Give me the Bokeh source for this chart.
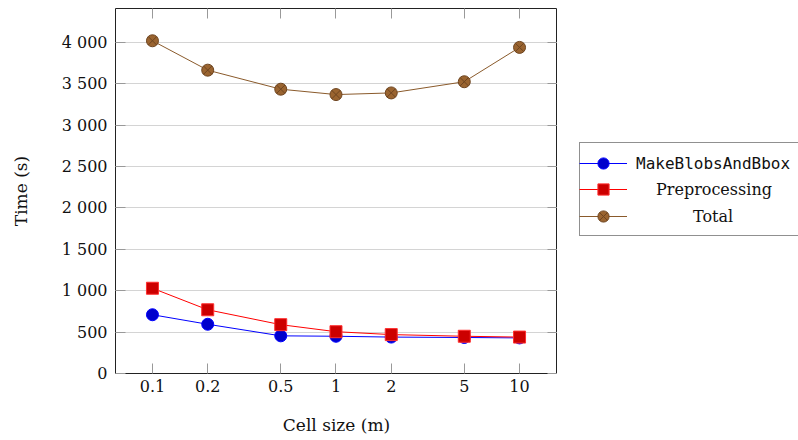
from bokeh.plotting import figure
from bokeh.models import (Range1d, FixedTicker, LinearAxis, LogAxis, Legend,
                          LegendItem, ColumnDataSource)
from bokeh.layouts import row
from bokeh.embed import file_html
from bokeh.resources import INLINE

cell_size = [0.1, 0.2, 0.5, 1, 2, 5, 10]
make_blobs = [710, 595, 455, 450, 440, 435, 430]
preprocessing = [1030, 770, 590, 505, 470, 450, 440]
total = [4020, 3665, 3435, 3370, 3390, 3525, 3940]
x_tick_labels = ["0.1", "0.2", "0.5", "1", "2", "5", "10"]
y_ticks = [0, 500, 1000, 1500, 2000, 2500, 3000, 3500, 4000]
series_names = ["MakeBlobsAndBbox", "Preprocessing", "Total"]

SERIF = "DejaVu Serif"
MONO = "DejaVu Sans Mono"

src = ColumnDataSource(dict(x=cell_size, mb=make_blobs, pre=preprocessing, tot=total))

p = figure(width=557, height=440, x_axis_type="log", output_backend="svg",
           toolbar_location=None, x_range=Range1d(0.0629, 16.1),
           y_range=Range1d(0, 4410),
           min_border_left=115, min_border_right=0, min_border_top=8,
           min_border_bottom=67)
p.background_fill_color = "white"
p.border_fill_color = "white"
p.outline_line_color = "#222222"
p.outline_line_width = 1

p.xgrid.grid_line_color = None
p.ygrid.grid_line_color = "#d4d4d4"
p.ygrid.grid_line_width = 1

xt = FixedTicker(ticks=cell_size, minor_ticks=[])
yt = FixedTicker(ticks=y_ticks, minor_ticks=[])
x_over = {v: l for v, l in zip(cell_size, x_tick_labels)}
y_over = {v: f"{v:,}".replace(",", " ") for v in y_ticks}

for ax in p.xaxis:
    ax.ticker = xt
    ax.major_label_overrides = x_over
for ax in p.yaxis:
    ax.ticker = yt
    ax.major_label_overrides = y_over

def style(ax):
    ax.axis_line_color = None
    ax.major_tick_in = 10
    ax.major_tick_out = 0
    ax.minor_tick_in = 0
    ax.minor_tick_out = 0
    ax.major_tick_line_color = "#999999"
    ax.major_label_text_font = SERIF
    ax.major_label_text_font_size = "16px"
    ax.major_label_text_color = "#111111"
    ax.axis_label_text_font = SERIF
    ax.axis_label_text_font_size = "17px"
    ax.axis_label_text_font_style = "normal"
    ax.axis_label_text_color = "#111111"

p.xaxis.axis_label = "Cell size (m)"
p.yaxis.axis_label = "Time (s)"
for ax in p.xaxis + p.yaxis:
    style(ax)
p.xaxis.major_label_standoff = 6
p.xaxis.axis_label_standoff = 20
p.yaxis.major_label_standoff = 8
p.yaxis.axis_label_standoff = 28

top = LogAxis(ticker=xt, major_label_overrides={v: "" for v in cell_size})
right = LinearAxis(ticker=yt, major_label_overrides={v: "" for v in y_ticks})
for ax in (top, right):
    style(ax)
    ax.major_label_standoff = 0
p.add_layout(top, "above")
p.add_layout(right, "right")

def series(fig):
    l1 = fig.line("x", "mb", source=src, line_color="#0000ff", line_width=1)
    s1 = fig.scatter("x", "mb", source=src, marker="circle", size=12,
                     fill_color="#0000cc", line_color="#0000ff")
    l2 = fig.line("x", "pre", source=src, line_color="#ff0000", line_width=1)
    s2 = fig.scatter("x", "pre", source=src, marker="square", size=12,
                     fill_color="#cc0000", line_color="#ff3030")
    l3 = fig.line("x", "tot", source=src, line_color="#8a5a2b", line_width=1)
    s3 = fig.scatter("x", "tot", source=src, marker="circle_x", size=12,
                     fill_color="#9a6430", line_color="#6e4520")
    return (l1, s1), (l2, s2), (l3, s3)

series(p)

# legend panel: same series, drawn outside its (empty) ranges so only the legend shows
q = figure(width=241, height=440, output_backend="svg", toolbar_location=None,
           x_range=Range1d(100, 200), y_range=Range1d(10000, 20000),
           min_border=0)
q.axis.visible = False
q.grid.visible = False
q.outline_line_color = None
q.background_fill_color = "white"
q.border_fill_color = "white"
rs = series(q)
ghost = q.scatter("x", "mb", source=src, size=1, fill_alpha=0, line_alpha=0)

common = dict(margin=0, padding=4, spacing=0, glyph_width=48, glyph_height=28,
              label_height=28, label_text_font_size="16px",
              label_text_color="#111111")

# frame of q is aligned with p's frame: bottom at y=373
box = Legend(items=[LegendItem(label=" ", renderers=[ghost]) for _ in range(3)],
             location=(22, 137), label_text_font=SERIF, label_width=153,
             label_standoff=9,
             border_line_color="#222222", border_line_width=1,
             background_fill_color="white", background_fill_alpha=1, **common)
q.add_layout(box, "center")

fonts = [MONO, SERIF, SERIF]
standoffs = [9, 29, 66]
ylocs = [196, 170, 143]
for name, r, f, so, yl in zip(series_names, rs, fonts, standoffs, ylocs):
    lg = Legend(items=[LegendItem(label=name, renderers=list(r))],
                location=(22, yl), label_text_font=f, label_standoff=so,
                border_line_color=None, background_fill_alpha=0, **common)
    q.add_layout(lg, "center")

layout = row(p, q)
open("out.html", "w").write(file_html(layout, INLINE))
